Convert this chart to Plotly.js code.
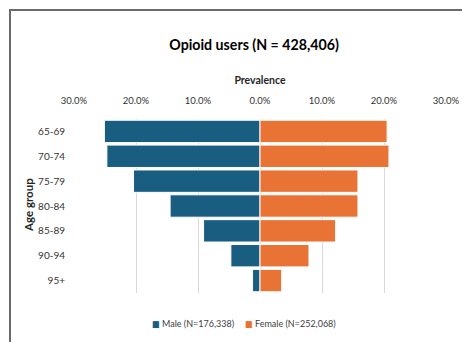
<!DOCTYPE html>
<html>
<head>
<meta charset="utf-8">
<script src="https://cdn.plot.ly/plotly-3.0.1.min.js"></script>
<style>
html,body{margin:0;padding:0;background:#fff;}
#wrap{position:relative;width:462px;height:342px;overflow:hidden;}
#chart{position:absolute;left:0;top:0;width:462px;height:342px;}
#frame{position:absolute;left:9px;top:9px;width:470px;height:350px;border-left:2px solid #6b6b6b;border-top:2px solid #6b6b6b;pointer-events:none;}
</style>
</head>
<body>
<div id="wrap"><div id="chart"></div><div id="frame"></div></div>
<script>
const ageGroups = ["65-69","70-74","75-79","80-84","85-89","90-94","95+"];
const maleValues = [25.1, 24.7, 20.4, 14.5, 9.1, 4.7, 1.2];
const femaleValues = [20.5, 20.8, 15.8, 15.8, 12.2, 7.9, 3.5];
const tickValues = [-30, -20, -10, 0, 10, 20, 30];
const tickLabels = ["30.0%","20.0%","10.0%","0.0%","10.0%","20.0%","30.0%"];
const maleName = "Male (N=176,338)";
const femaleName = "Female (N=252,068)";
const maleColor = "#195e80";
const femaleColor = "#e97334";

const FONT = "Lato, 'DejaVu Sans Condensed', sans-serif";

const traces = [
  {
    type: "bar", orientation: "h", name: maleName,
    y: ageGroups, x: maleValues.map(v => -v),
    marker: {color: maleColor, line: {color: "#ffffff", width: 1}},
    hoverinfo: "skip"
  },
  {
    type: "bar", orientation: "h", name: femaleName,
    y: ageGroups, x: femaleValues,
    marker: {color: femaleColor, line: {color: "#ffffff", width: 1}},
    hoverinfo: "skip"
  }
];

const legendAnnotations = [
  {name: maleName, color: maleColor, x: 150},
  {name: femaleName, color: femaleColor, x: 243}
].map(it => ({
  xref: "paper", yref: "paper",
  x: (it.x - 74) / 372, y: -(323 - 293) / 174,
  xanchor: "left", yanchor: "middle", showarrow: false,
  text: "<span style='color:" + it.color + "'>■</span> " + it.name,
  font: {size: 9, color: "#404040", family: FONT}
}));

const yTitle = {
  xref: "paper", yref: "paper",
  x: (28 - 74) / 372, y: (293 - 205) / 174,
  xanchor: "center", yanchor: "middle", showarrow: false, textangle: -90,
  text: "<b>Age group</b>", font: {size: 11.5, color: "#262626", family: FONT}
};

const layout = {
  width: 462, height: 342,
  paper_bgcolor: "#ffffff", plot_bgcolor: "#ffffff",
  margin: {l: 74, r: 16, t: 119, b: 49},
  barmode: "relative", bargap: 0.1,
  font: {family: FONT, color: "#262626"},
  title: {text: "<b>Opioid users (N = 428,406)</b>", font: {size: 14.2, color: "#000", family: FONT}, x: 0.55, xanchor: "center", y: 0.868, yanchor: "middle"},
  xaxis: {
    side: "top", range: [-30, 30], tickvals: tickValues, ticktext: tickLabels,
    showgrid: true, gridcolor: "#d9d9d9", zeroline: false, showline: false,
    ticks: "", ticklabelstandoff: 12, tickfont: {size: 9.5, color: "#333333"},
    title: {text: "<b>Prevalence</b>", font: {size: 10.5, color: "#262626"}, standoff: 8},
    fixedrange: true
  },
  yaxis: {
    autorange: "reversed", showgrid: false, zeroline: false, showline: false,
    ticks: "", ticklabelstandoff: 8, tickfont: {size: 10, color: "#333333"},
    fixedrange: true
  },
  showlegend: false,
  annotations: legendAnnotations.concat([yTitle])
};

Plotly.newPlot("chart", traces, layout, {displayModeBar: false, staticPlot: true});
</script>
</body>
</html>
